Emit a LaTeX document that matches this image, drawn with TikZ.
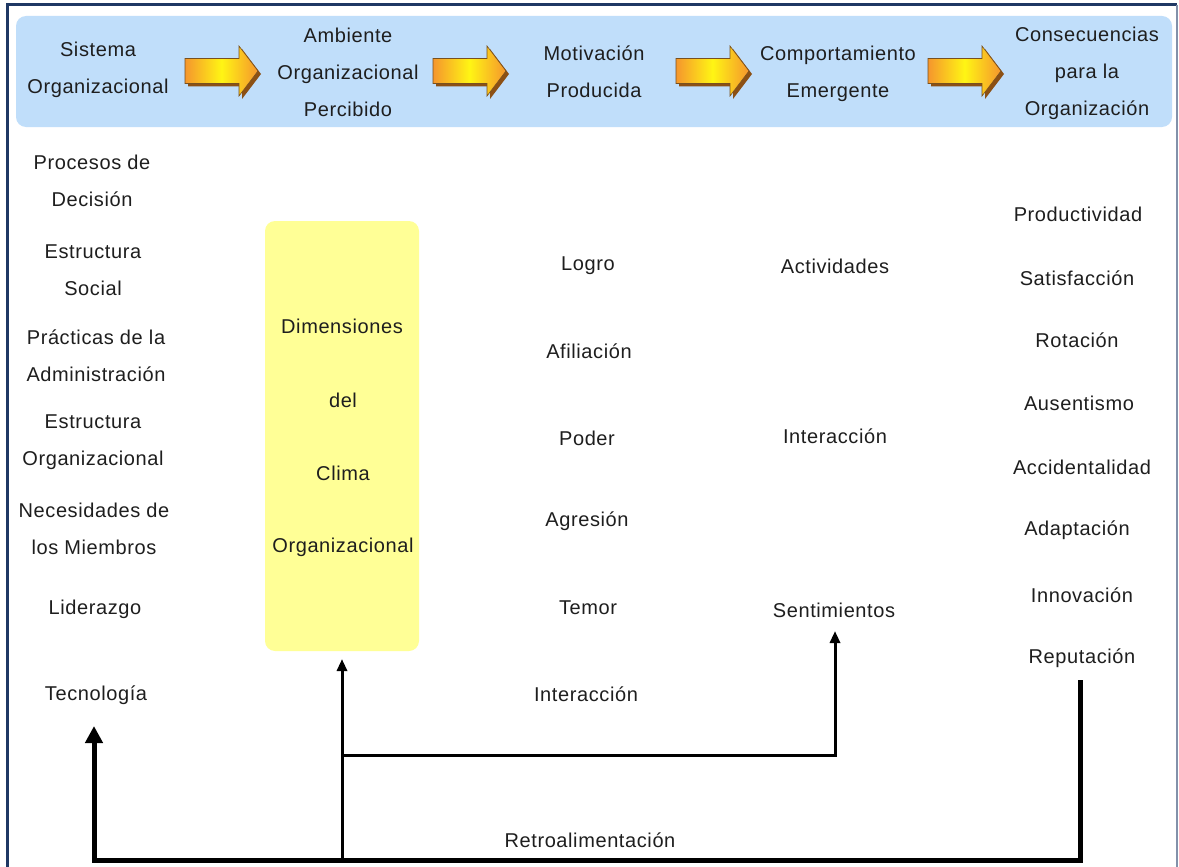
\documentclass[tikz,border=0pt]{standalone}
\usepackage{fontspec}
\setmainfont{Liberation Sans}[LetterSpace=3.0]
\usetikzlibrary{arrows.meta}
\definecolor{band}{RGB}{192,222,250}
\definecolor{clima}{RGB}{255,255,150}
\definecolor{navy}{RGB}{31,56,100}
\definecolor{framegray}{RGB}{130,145,170}
\definecolor{txt}{RGB}{30,30,30}
\definecolor{arrorange}{RGB}{245,150,45}
\definecolor{arryellow}{RGB}{255,245,20}
\definecolor{arrshadow}{RGB}{140,80,20}
\definecolor{arredge}{RGB}{120,80,30}
\tikzset{
  lbl/.style={inner sep=0pt, align=center, font=\fontsize{20}{37}\selectfont, text=txt},
  thickline/.style={line width=5pt, black},
  thinline/.style={line width=3pt, black},
  fatarrow/.pic={
    \fill[arrshadow] (3,-9.5) -- (57,-9.5) -- (57,-22) -- (76,3) -- (57,28) -- (57,15.5) -- (3,15.5) -- cycle;
    \shade[left color=arrorange, right color=arrorange, middle color=arryellow, draw=arredge, line width=0.6pt]
      (0,-12.5) -- (54,-12.5) -- (54,-25) -- (73,0) -- (54,25) -- (54,12.5) -- (0,12.5) -- cycle;
  }
}
\begin{document}
\begin{tikzpicture}[x=1pt,y=-1pt]
\useasboundingbox (0,0) rectangle (1179,867);
\fill[white] (0,0) rectangle (1179,867);
% frame
\draw[navy, line width=3pt] (7,867) -- (7,5) -- (1177,5);
\draw[framegray, line width=2pt] (1177,5) -- (1177,867);
% header band
\fill[band, rounded corners=10pt] (16,16) rectangle (1172,127);
% yellow box
\fill[clima, rounded corners=10pt] (265,221) rectangle (419,651);
% header arrows
\pic at (185,71) {fatarrow};
\pic at (433,71) {fatarrow};
\pic at (676,71) {fatarrow};
\pic at (928,71) {fatarrow};
% header texts
\node[lbl] (h1) at (98,70) {Sistema\\Organizacional};
\node[lbl] (h2) at (348,72) {Ambiente\\Organizacional\\Percibido};
\node[lbl] (h3) at (594,72) {Motivación\\Producida};
\node[lbl] (h4) at (838,74) {Comportamiento\\Emergente};
\node[lbl] (h5) at (1087,73) {Consecuencias\\para la\\Organización};
% left column
\node[lbl] (l1) at (92,181) {Procesos de\\Decisión};
\node[lbl] (l2) at (93,270) {Estructura\\Social};
\node[lbl] (l3) at (96,356) {Prácticas de la\\Administración};
\node[lbl] (l4) at (93,442) {Estructura\\Organizacional};
\node[lbl] (l5) at (94,529) {Necesidades de\\los Miembros};
\node[lbl] (l6) at (95,609) {Liderazgo};
\node[lbl] (tec) at (96,695) {Tecnología};
% clima
\node[lbl] (c1) at (342,326) {Dimensiones};
\node[lbl] (c2) at (343,400) {del};
\node[lbl] (c3) at (343,473) {Clima};
\node[lbl] (c4) at (343,547) {Organizacional};
% motivacion
\node[lbl] (m1) at (588,266) {Logro};
\node[lbl] (m2) at (589,351) {Afiliación};
\node[lbl] (m3) at (587,438) {Poder};
\node[lbl] (m4) at (587,521) {Agresión};
\node[lbl] (m5) at (588,608) {Temor};
\node[lbl] (m6) at (586,694) {Interacción};
% comportamiento
\node[lbl] (e1) at (835,266) {Actividades};
\node[lbl] (e2) at (835,436) {Interacción};
\node[lbl] (sent) at (834,610) {Sentimientos};
% consecuencias
\node[lbl] (r1) at (1078,214) {Productividad};
\node[lbl] (r2) at (1077,278) {Satisfacción};
\node[lbl] (r3) at (1077,340) {Rotación};
\node[lbl] (r4) at (1079,403) {Ausentismo};
\node[lbl] (r5) at (1082,467) {Accidentalidad};
\node[lbl] (r6) at (1077,530) {Adaptación};
\node[lbl] (r7) at (1082,595) {Innovación};
\node[lbl] (rep) at (1082,658) {Reputación};
% feedback label
\node[lbl] (retro) at (590,840) {Retroalimentación};
% connector coordinates
\coordinate (repb) at (1080,680);
\coordinate (corner) at (94,860);
\coordinate (tecb) at (94,726);
\coordinate (join) at (342,860);
\coordinate (climab) at (342,659);
\coordinate (split) at (342,755);
\coordinate (sentb) at (835,631);
% connectors
\draw[thickline, -{Triangle[width=17pt,length=17pt]}] (repb) |- (corner) -- (tecb);
\draw[thinline, -{Triangle[width=10pt,length=12pt]}] (join) -- (climab);
\draw[thinline, -{Triangle[width=10pt,length=12pt]}] (split) -| (sentb);
\end{tikzpicture}
\end{document}
